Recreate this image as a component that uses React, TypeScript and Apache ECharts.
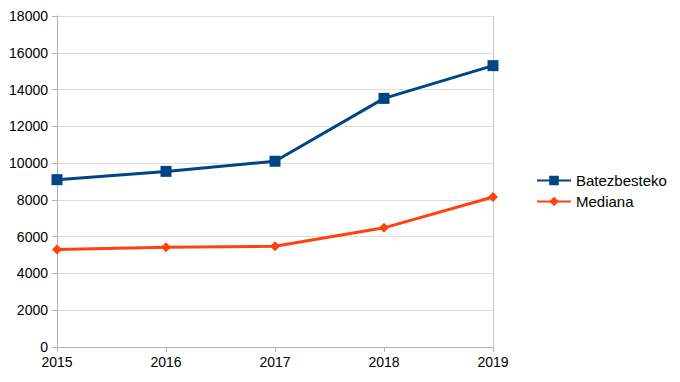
import React, { useEffect, useRef } from "react";
import * as echarts from "echarts";

const years = ["2015", "2016", "2017", "2018", "2019"];
const batezbesteko = [9100, 9550, 10100, 13520, 15300];
const mediana = [5300, 5420, 5480, 6480, 8160];

export default function App() {
  const ref = useRef<HTMLDivElement>(null);
  useEffect(() => {
    const chart = echarts.init(ref.current!, null, { renderer: "svg" });
    const font = "Liberation Sans";
    chart.setOption({
      animation: false,
      backgroundColor: "#ffffff",
      textStyle: { fontFamily: font },
      grid: { left: 57, right: 187, top: 16, bottom: 35, containLabel: false },
      legend: {
        orient: "vertical",
        left: 531,
        top: 168,
        itemWidth: 34,
        itemHeight: 12,
        itemGap: 6,
        textStyle: { fontFamily: font, fontSize: 15, color: "#000" },
        data: ["Batezbesteko", "Mediana"],
      },
      xAxis: {
        type: "category",
        data: years,
        boundaryGap: false,
        axisLine: { lineStyle: { color: "#b3b3b3", width: 1 } },
        axisTick: { show: true, length: 5, lineStyle: { color: "#b3b3b3" } },
        axisLabel: { fontFamily: font, fontSize: 14, color: "#000", margin: 8 },
        splitLine: {
          show: true,
          interval: (i: number) => i === years.length - 1,
          lineStyle: { color: "#cccccc" },
        },
      },
      yAxis: {
        type: "value",
        min: 0,
        max: 18000,
        interval: 2000,
        axisLine: { show: true, lineStyle: { color: "#b3b3b3", width: 1 } },
        axisTick: { show: true, length: 5, lineStyle: { color: "#b3b3b3" } },
        axisLabel: {
          fontFamily: font,
          fontSize: 14,
          color: "#000",
          margin: 9,
          formatter: (v: number) => String(v),
        },
        splitLine: { show: true, lineStyle: { color: "#dddddd" } },
      },
      series: [
        {
          name: "Batezbesteko",
          type: "line",
          data: batezbesteko,
          symbol: "rect",
          symbolSize: 11,
          color: "#004586",
          lineStyle: { width: 3, color: "#004586" },
          itemStyle: { color: "#004586" },
        },
        {
          name: "Mediana",
          type: "line",
          data: mediana,
          symbol: "diamond",
          symbolSize: 10,
          color: "#ff420e",
          lineStyle: { width: 3, color: "#ff420e" },
          itemStyle: { color: "#ff420e" },
        },
      ],
    });
    return () => chart.dispose();
  }, []);
  return <div ref={ref} style={{ width: 680, height: 382, position: "absolute", left: 0, top: 0 }} />;
}
